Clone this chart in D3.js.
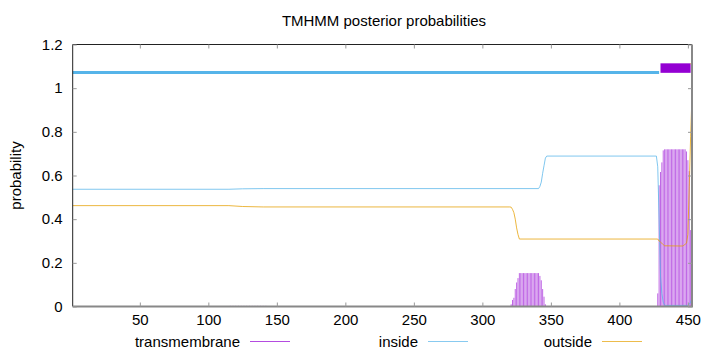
<!DOCTYPE html>
<html>
<head>
<meta charset="utf-8">
<script src="https://cdn.jsdelivr.net/npm/d3@7"></script>
<style>
  body { margin: 0; background: #fff; }
  text { font-family: "Liberation Sans", Arial, sans-serif; fill: #000; }
</style>
</head>
<body>
<svg id="chart" width="720" height="352"></svg>
<script>
// TMHMM posterior probabilities, sequence of 453 residues
const seqLength = 453;

// inside probability, read at the residues where the curve bends
const insidePos = [1, 115, 125, 140, 341, 342, 343, 344, 345, 346, 347, 427, 428, 429, 430, 431, 432, 433, 450, 451, 452, 453];
const insideVal = [0.537, 0.537, 0.539, 0.540, 0.540, 0.55, 0.57, 0.61, 0.645, 0.68, 0.689, 0.689, 0.64, 0.40, 0.14, 0.06, 0.02, 0.005, 0.005, 0.01, 0.02, 0.04];

// outside probability
const outsidePos = [1, 115, 125, 140, 320, 321, 322, 323, 324, 325, 326, 327, 428, 429, 430, 431, 432, 433, 446, 447, 448, 449, 450, 451, 452, 453];
const outsideVal = [0.462, 0.462, 0.458, 0.456, 0.456, 0.455, 0.445, 0.43, 0.40, 0.36, 0.33, 0.309, 0.309, 0.30, 0.295, 0.29, 0.283, 0.278, 0.277, 0.28, 0.285, 0.29, 0.33, 0.55, 0.78, 0.97];

// transmembrane probability per residue (residues not listed are 0)
const tmPos = [22, 24, 26, 28, 30, 32, 34, 36, 38, 40, 42, 44,
  116, 118, 120, 122, 124, 126, 128, 130, 132, 134, 136, 138, 140, 142,
  321, 322, 323, 324, 325, 326, 327, 328, 329, 330, 331, 332, 333, 334, 335, 336, 337, 338, 339, 340, 341, 342, 343, 344, 345, 346,
  428, 429, 430, 431, 432, 433, 434, 435, 436, 437, 438, 439, 440, 441, 442, 443, 444, 445, 446, 447, 448, 449, 450, 451, 452, 453];
const tmVal = [0.002, 0.002, 0.002, 0.002, 0.002, 0.002, 0.002, 0.002, 0.002, 0.002, 0.002, 0.002,
  0.003, 0.003, 0.003, 0.003, 0.003, 0.003, 0.003, 0.003, 0.003, 0.003, 0.003, 0.003, 0.003, 0.003,
  0.01, 0.03, 0.04, 0.08, 0.11, 0.13, 0.153, 0.153, 0.153, 0.153, 0.153, 0.153, 0.153, 0.153, 0.153, 0.153, 0.153, 0.153, 0.153, 0.153, 0.153, 0.14, 0.12, 0.08, 0.045, 0.01,
  0.06, 0.555, 0.616, 0.66, 0.715, 0.72, 0.72, 0.72, 0.72, 0.72, 0.72, 0.72, 0.72, 0.72, 0.72, 0.72, 0.72, 0.72, 0.72, 0.72, 0.72, 0.71, 0.67, 0.62, 0.35, 0.05];

// predicted topology shown above the curves
const topoStart = [1, 430, 452];
const topoEnd = [429, 452, 453];
const topoType = ["inside", "transmembrane", "outside"];

const yTicks = [0, 0.2, 0.4, 0.6, 0.8, 1, 1.2];
const xTicks = [50, 100, 150, 200, 250, 300, 350, 400, 450];

const colors = { transmembrane: "#9400d3", inside: "#56b4e9", outside: "#e69f00" };
const fontSize = "15px";

const svg = d3.select("#chart");
const plotL = 72.7, plotR = 692, plotT = 44.5, plotB = 306.5;

const x = d3.scaleLinear().domain([1, seqLength]).range([plotL, plotR]);
const y = d3.scaleLinear().domain([0, 1.2]).range([plotB, plotT]);

// title and y label
svg.append("text")
  .attr("x", 384).attr("y", 26)
  .attr("text-anchor", "middle")
  .style("font-size", fontSize)
  .text("TMHMM posterior probabilities");

svg.append("text")
  .attr("transform", `translate(21,${(plotT + plotB) / 2}) rotate(-90)`)
  .attr("text-anchor", "middle")
  .style("font-size", fontSize)
  .text("probability");

// transmembrane impulses
svg.append("g").selectAll("line")
  .data(tmPos.map((p, i) => ({ p, v: tmVal[i] })))
  .join("line")
  .attr("x1", d => x(d.p)).attr("x2", d => x(d.p))
  .attr("y1", y(0)).attr("y2", d => y(d.v))
  .attr("stroke", colors.transmembrane)
  .attr("stroke-opacity", 0.6)
  .attr("stroke-width", 1);

// inside and outside curves
const line = d3.line().x(d => x(d[0])).y(d => y(d[1]));

svg.append("path")
  .datum(insidePos.map((p, i) => [p, insideVal[i]]))
  .attr("d", line)
  .attr("fill", "none")
  .attr("stroke", colors.inside)
  .attr("stroke-opacity", 0.75)
  .attr("stroke-width", 1);

svg.append("path")
  .datum(outsidePos.map((p, i) => [p, outsideVal[i]]))
  .attr("d", line)
  .attr("fill", "none")
  .attr("stroke", colors.outside)
  .attr("stroke-opacity", 0.75)
  .attr("stroke-width", 1);

// topology bar
const topoY = { inside: 1.072, transmembrane: 1.092, outside: 1.112 };
const topoW = { inside: 3, transmembrane: 9.5, outside: 1.5 };
svg.append("g").selectAll("line")
  .data(topoType.map((t, i) => ({ t, s: topoStart[i], e: topoEnd[i] })))
  .join("line")
  .attr("x1", d => x(d.s)).attr("x2", d => x(d.e))
  .attr("y1", d => y(topoY[d.t])).attr("y2", d => y(topoY[d.t]))
  .attr("stroke", d => colors[d.t])
  .attr("stroke-width", d => topoW[d.t]);

// border
const border = svg.append("g").attr("fill", "none");
border.append("path")
  .attr("d", `M${plotL},${plotB} V${plotT} H${plotR}`)
  .attr("stroke", "#222").attr("stroke-width", 1);
border.append("path")
  .attr("d", `M${plotL},${plotB} H${plotR} V${plotT}`)
  .attr("stroke", "#888").attr("stroke-width", 2);

// axes with inward ticks
const yAxis = d3.axisLeft(y).tickValues(yTicks).tickSize(-4).tickPadding(10)
  .tickFormat(d => d3.format("")(d));
const gy = svg.append("g").attr("transform", `translate(${plotL},0)`).call(yAxis);
gy.select(".domain").remove();
gy.selectAll(".tick line").attr("stroke", "#999");
gy.selectAll("text").style("font-size", fontSize).style("font-family", "Liberation Sans, Arial, sans-serif");

const gyr = svg.append("g").attr("transform", `translate(${plotR},0)`)
  .call(d3.axisRight(y).tickValues(yTicks).tickSize(-4).tickFormat(""));
gyr.select(".domain").remove();
gyr.selectAll(".tick line").attr("stroke", "#999");

const xAxis = d3.axisBottom(x).tickValues(xTicks).tickSize(-4).tickPadding(8);
const gx = svg.append("g").attr("transform", `translate(0,${plotB})`).call(xAxis);
gx.select(".domain").remove();
gx.selectAll(".tick line").attr("stroke", "#999");
gx.selectAll("text").style("font-size", fontSize).style("font-family", "Liberation Sans, Arial, sans-serif");

const gxt = svg.append("g").attr("transform", `translate(0,${plotT})`)
  .call(d3.axisTop(x).tickValues(xTicks).tickSize(-4).tickFormat(""));
gxt.select(".domain").remove();
gxt.selectAll(".tick line").attr("stroke", "#999");

// legend
const legendKeys = ["transmembrane", "inside", "outside"];
const legendTextEnd = [240, 418, 592];
const leg = svg.append("g").selectAll("g")
  .data(legendKeys)
  .join("g");
leg.append("text")
  .attr("x", (d, i) => legendTextEnd[i]).attr("y", 347)
  .attr("text-anchor", "end")
  .style("font-size", fontSize)
  .text(d => d);
leg.append("line")
  .attr("x1", (d, i) => legendTextEnd[i] + 10).attr("x2", (d, i) => legendTextEnd[i] + 50)
  .attr("y1", 341.5).attr("y2", 341.5)
  .attr("stroke", d => colors[d])
  .attr("stroke-opacity", 0.7)
  .attr("stroke-width", 1);
</script>
</body>
</html>
